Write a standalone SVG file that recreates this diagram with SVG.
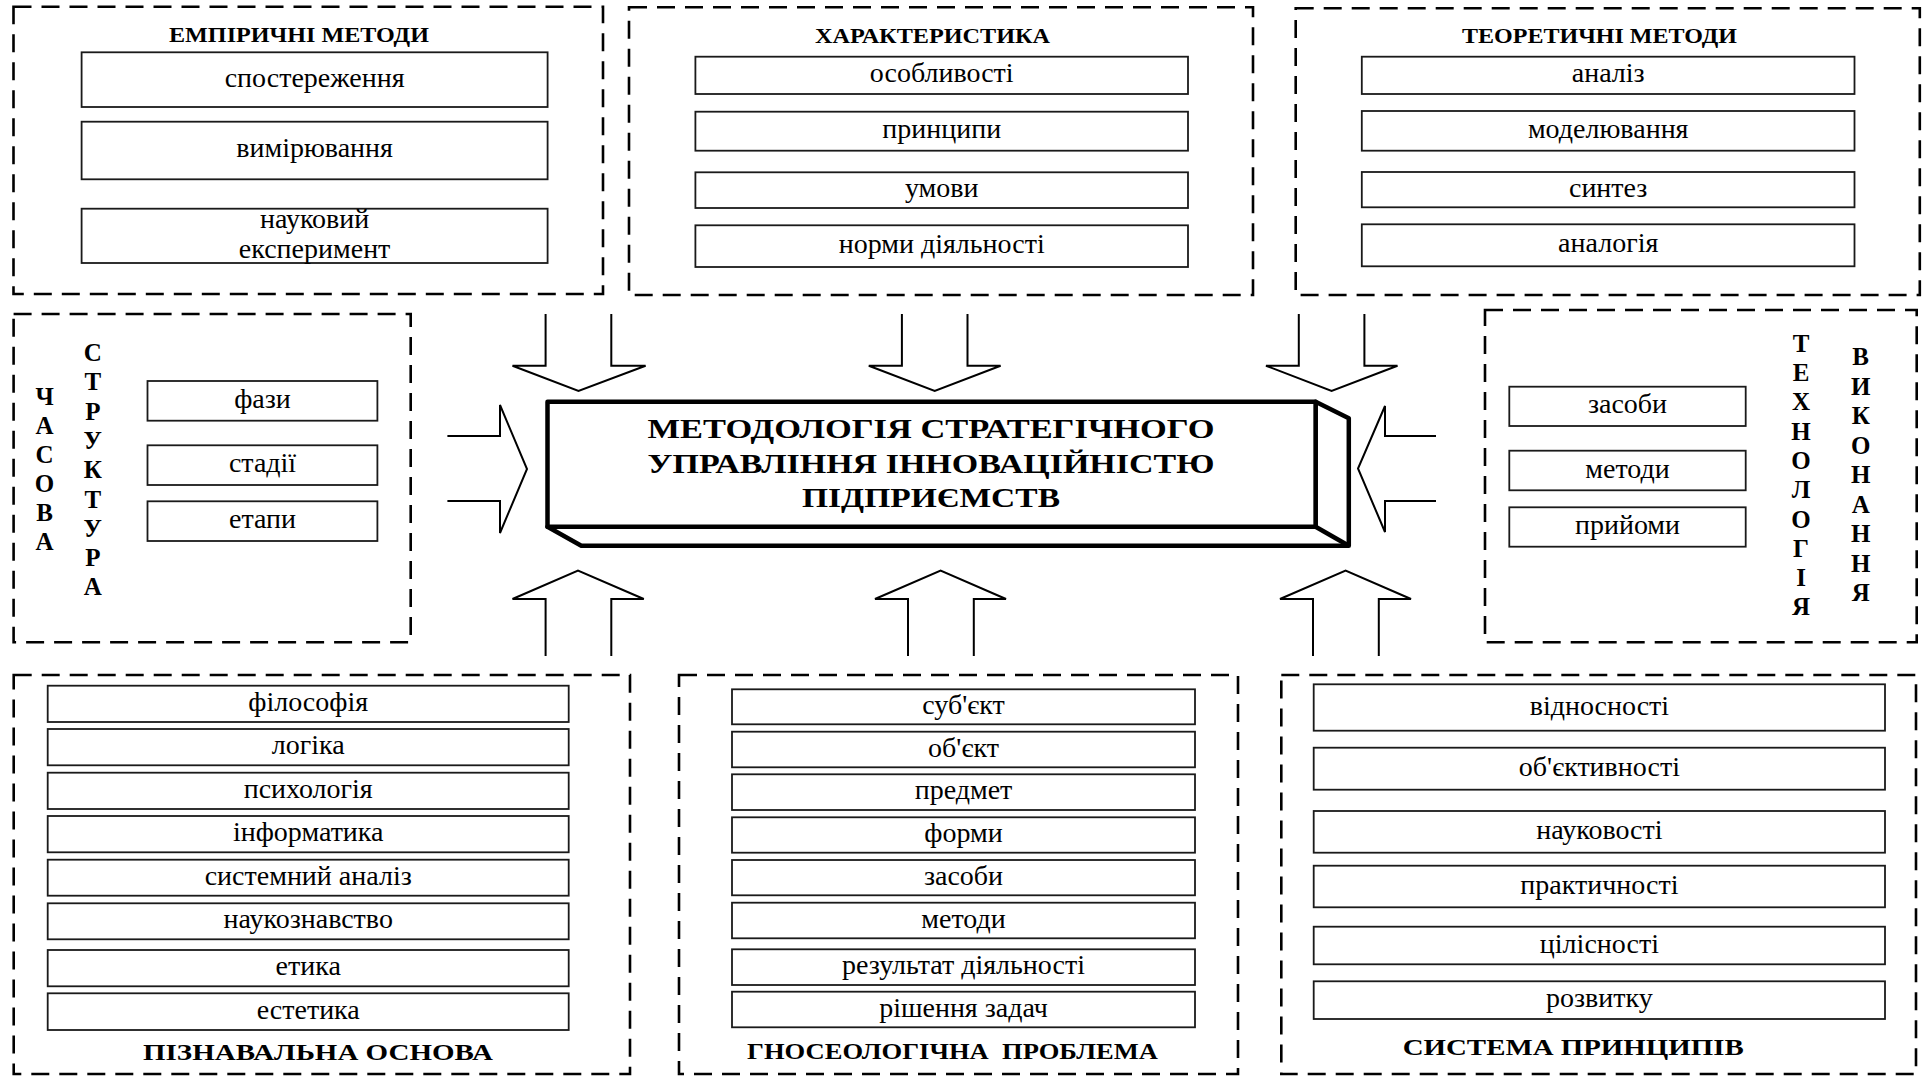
<svg xmlns="http://www.w3.org/2000/svg" width="1928" height="1077" viewBox="0 0 1928 1077">
  <style>
    .frame { fill: none; stroke: #000; stroke-width: 2.6; stroke-dasharray: 18 10; }
    .item { fill: #fff; stroke: #1a1a1a; stroke-width: 1.8; }
    .lbl { font-family: "Liberation Serif", "Times New Roman", serif; font-size: 28px; fill: #000; text-anchor: middle; }
    .ttl { font-family: "Liberation Serif", "Times New Roman", serif; font-weight: bold; font-size: 20px; fill: #000; }
    .ttl2 { font-family: "Liberation Serif", "Times New Roman", serif; font-weight: bold; font-size: 23px; fill: #000; }
    .vert { font-family: "Liberation Serif", "Times New Roman", serif; font-weight: bold; font-size: 25px; fill: #000; text-anchor: middle; }
    .main { font-family: "Liberation Serif", "Times New Roman", serif; font-weight: bold; font-size: 28px; fill: #000; }
    .arrow { fill: none; stroke: #000; stroke-width: 2; stroke-linejoin: miter; }
    .block { fill: #fff; stroke: #000; stroke-width: 4.5; stroke-linejoin: round; }
  </style>
  <rect width="1928" height="1077" fill="#fff"/>

  <!-- Empirical methods -->
  <g id="empirical">
    <rect class="frame" x="13.5" y="6.7" width="589.5" height="287.3"/>
    <text class="ttl" x="169" y="41.7" textLength="260" lengthAdjust="spacingAndGlyphs">ЕМПІРИЧНІ МЕТОДИ</text>
    <rect class="item" x="81.6" y="52.3" width="466" height="54.7"/>
    <text class="lbl" x="314.6" y="86.7">спостереження</text>
    <rect class="item" x="81.6" y="121.7" width="466" height="57.6"/>
    <text class="lbl" x="314.6" y="157">вимірювання</text>
    <rect class="item" x="81.6" y="208.7" width="466" height="54.3"/>
    <text class="lbl" x="314.6" y="228.3">науковий</text>
    <text class="lbl" x="314.6" y="258.3">експеримент</text>
  </g>

  <!-- Characteristics -->
  <g id="characteristics">
    <rect class="frame" x="629" y="7.3" width="624" height="287.7"/>
    <text class="ttl" x="815" y="42.7" textLength="235" lengthAdjust="spacingAndGlyphs">ХАРАКТЕРИСТИКА</text>
    <rect class="item" x="695.4" y="56.7" width="492.6" height="37.3"/>
    <text class="lbl" x="941.7" y="82.3">особливості</text>
    <rect class="item" x="695.4" y="111.7" width="492.6" height="39"/>
    <text class="lbl" x="941.7" y="138.2">принципи</text>
    <rect class="item" x="695.4" y="172.3" width="492.6" height="35.7"/>
    <text class="lbl" x="941.7" y="197.2">умови</text>
    <rect class="item" x="695.4" y="225.3" width="492.6" height="41.7"/>
    <text class="lbl" x="941.7" y="253.2">норми діяльності</text>
  </g>

  <!-- Theoretical methods -->
  <g id="theoretical">
    <rect class="frame" x="1295.7" y="8.3" width="624.1" height="286.7"/>
    <text class="ttl" x="1462" y="42.7" textLength="275" lengthAdjust="spacingAndGlyphs">ТЕОРЕТИЧНІ МЕТОДИ</text>
    <rect class="item" x="1361.8" y="56.7" width="492.7" height="37.3"/>
    <text class="lbl" x="1608.2" y="82.3">аналіз</text>
    <rect class="item" x="1361.8" y="111" width="492.7" height="39.7"/>
    <text class="lbl" x="1608.2" y="137.8">моделювання</text>
    <rect class="item" x="1361.8" y="172" width="492.7" height="35.3"/>
    <text class="lbl" x="1608.2" y="196.7">синтез</text>
    <rect class="item" x="1361.8" y="224.3" width="492.7" height="42"/>
    <text class="lbl" x="1608.2" y="252.3">аналогія</text>
  </g>

  <!-- Time structure -->
  <g id="time-structure">
    <rect class="frame" x="13.6" y="314" width="397.1" height="328.3"/>
    <text class="vert"><tspan x="44.6" y="405">Ч</tspan><tspan x="44.6" dy="29">А</tspan><tspan x="44.6" dy="29">С</tspan><tspan x="44.6" dy="29">О</tspan><tspan x="44.6" dy="29">В</tspan><tspan x="44.6" dy="29">А</tspan></text>
    <text class="vert"><tspan x="92.8" y="361">С</tspan><tspan x="92.8" dy="29.3">Т</tspan><tspan x="92.8" dy="29.3">Р</tspan><tspan x="92.8" dy="29.3">У</tspan><tspan x="92.8" dy="29.3">К</tspan><tspan x="92.8" dy="29.3">Т</tspan><tspan x="92.8" dy="29.3">У</tspan><tspan x="92.8" dy="29.3">Р</tspan><tspan x="92.8" dy="29.3">А</tspan></text>
    <rect class="item" x="147.5" y="381" width="229.9" height="39.7"/>
    <text class="lbl" x="262.5" y="408">фази</text>
    <rect class="item" x="147.5" y="445.3" width="229.9" height="39.7"/>
    <text class="lbl" x="262.5" y="472.2">стадії</text>
    <rect class="item" x="147.5" y="501.3" width="229.9" height="39.7"/>
    <text class="lbl" x="262.5" y="528.2">етапи</text>
  </g>

  <!-- Execution technology -->
  <g id="execution-technology">
    <rect class="frame" x="1485" y="310" width="431.7" height="332.3"/>
    <rect class="item" x="1509.3" y="386.7" width="236.4" height="39.3"/>
    <text class="lbl" x="1627.5" y="413.3">засоби</text>
    <rect class="item" x="1509.3" y="450.7" width="236.4" height="39.6"/>
    <text class="lbl" x="1627.5" y="477.5">методи</text>
    <rect class="item" x="1509.3" y="507.3" width="236.4" height="39.4"/>
    <text class="lbl" x="1627.5" y="534">прийоми</text>
    <text class="vert"><tspan x="1801" y="351.7">Т</tspan><tspan x="1801" dy="29.3">Е</tspan><tspan x="1801" dy="29.3">Х</tspan><tspan x="1801" dy="29.3">Н</tspan><tspan x="1801" dy="29.3">О</tspan><tspan x="1801" dy="29.3">Л</tspan><tspan x="1801" dy="29.3">О</tspan><tspan x="1801" dy="29.3">Г</tspan><tspan x="1801" dy="29.3">І</tspan><tspan x="1801" dy="29.3">Я</tspan></text>
    <text class="vert"><tspan x="1860.7" y="365">В</tspan><tspan x="1860.7" dy="29.5">И</tspan><tspan x="1860.7" dy="29.5">К</tspan><tspan x="1860.7" dy="29.5">О</tspan><tspan x="1860.7" dy="29.5">Н</tspan><tspan x="1860.7" dy="29.5">А</tspan><tspan x="1860.7" dy="29.5">Н</tspan><tspan x="1860.7" dy="29.5">Н</tspan><tspan x="1860.7" dy="29.5">Я</tspan></text>
  </g>

  <!-- Cognitive basis -->
  <g id="cognitive-basis">
    <rect class="frame" x="13.7" y="675" width="616.3" height="399"/>
    <rect class="item" x="47.7" y="685.7" width="521" height="36.3"/>
    <text class="lbl" x="308.2" y="710.8">філософія</text>
    <rect class="item" x="47.7" y="729" width="521" height="36.3"/>
    <text class="lbl" x="308.2" y="754.2">логіка</text>
    <rect class="item" x="47.7" y="772.7" width="521" height="36.3"/>
    <text class="lbl" x="308.2" y="797.8">психологія</text>
    <rect class="item" x="47.7" y="816" width="521" height="36.3"/>
    <text class="lbl" x="308.2" y="841.2">інформатика</text>
    <rect class="item" x="47.7" y="859.7" width="521" height="36"/>
    <text class="lbl" x="308.2" y="884.7">системний аналіз</text>
    <rect class="item" x="47.7" y="903.3" width="521" height="36"/>
    <text class="lbl" x="308.2" y="928.3">наукознавство</text>
    <rect class="item" x="47.7" y="950" width="521" height="36.3"/>
    <text class="lbl" x="308.2" y="975.2">етика</text>
    <rect class="item" x="47.7" y="993.3" width="521" height="36.7"/>
    <text class="lbl" x="308.2" y="1018.6">естетика</text>
    <text class="ttl2" x="143" y="1060" textLength="350" lengthAdjust="spacingAndGlyphs">ПІЗНАВАЛЬНА ОСНОВА</text>
  </g>

  <!-- Gnoseological problem -->
  <g id="gnoseological-problem">
    <rect class="frame" x="679" y="675" width="559" height="399"/>
    <rect class="item" x="732" y="689.3" width="463" height="35"/>
    <text class="lbl" x="963.5" y="713.8">суб'єкт</text>
    <rect class="item" x="732" y="731.7" width="463" height="35.6"/>
    <text class="lbl" x="963.5" y="756.5">об'єкт</text>
    <rect class="item" x="732" y="774.3" width="463" height="35.7"/>
    <text class="lbl" x="963.5" y="799.2">предмет</text>
    <rect class="item" x="732" y="817.3" width="463" height="35.4"/>
    <text class="lbl" x="963.5" y="842">форми</text>
    <rect class="item" x="732" y="860" width="463" height="35.3"/>
    <text class="lbl" x="963.5" y="884.7">засоби</text>
    <rect class="item" x="732" y="902.7" width="463" height="35.6"/>
    <text class="lbl" x="963.5" y="927.5">методи</text>
    <rect class="item" x="732" y="949.3" width="463" height="35.7"/>
    <text class="lbl" x="963.5" y="974.2">результат діяльності</text>
    <rect class="item" x="732" y="991.7" width="463" height="35.6"/>
    <text class="lbl" x="963.5" y="1016.5">рішення задач</text>
    <text class="ttl2" x="747" y="1059.3" textLength="411" lengthAdjust="spacingAndGlyphs" xml:space="preserve">ГНОСЕОЛОГІЧНА  ПРОБЛЕМА</text>
  </g>

  <!-- System of principles -->
  <g id="principles">
    <rect class="frame" x="1281.3" y="675" width="634.7" height="399"/>
    <rect class="item" x="1313.7" y="684.3" width="571.3" height="46.4"/>
    <text class="lbl" x="1599.4" y="714.5">відносності</text>
    <rect class="item" x="1313.7" y="747.7" width="571.3" height="42"/>
    <text class="lbl" x="1599.4" y="775.7">об'єктивності</text>
    <rect class="item" x="1313.7" y="811" width="571.3" height="41.7"/>
    <text class="lbl" x="1599.4" y="838.8">науковості</text>
    <rect class="item" x="1313.7" y="865.7" width="571.3" height="41.6"/>
    <text class="lbl" x="1599.4" y="893.5">практичності</text>
    <rect class="item" x="1313.7" y="926.7" width="571.3" height="37.6"/>
    <text class="lbl" x="1599.4" y="952.5">цілісності</text>
    <rect class="item" x="1313.7" y="981.3" width="571.3" height="37.7"/>
    <text class="lbl" x="1599.4" y="1007.2">розвитку</text>
    <text class="ttl2" x="1402.7" y="1055" textLength="341" lengthAdjust="spacingAndGlyphs">СИСТЕМА ПРИНЦИПІВ</text>
  </g>

  <!-- Central block -->
  <g id="methodology">
    <path class="block" d="M1315.6 401.7 L1348.8 418.3 L1348.8 545.7 L581.3 545.7 L547.5 526.7 L1315.6 526.7 Z"/>
    <line class="block" x1="1315.6" y1="526.7" x2="1348.8" y2="545.7"/>
    <rect class="block" x="547.5" y="401.7" width="768.1" height="125"/>
    <text class="main" x="647.5" y="438.3" textLength="567" lengthAdjust="spacingAndGlyphs">МЕТОДОЛОГІЯ СТРАТЕГІЧНОГО</text>
    <text class="main" x="647.5" y="473.3" textLength="567" lengthAdjust="spacingAndGlyphs">УПРАВЛІННЯ ІННОВАЦІЙНІСТЮ</text>
    <text class="main" x="802" y="506.7" textLength="258" lengthAdjust="spacingAndGlyphs">ПІДПРИЄМСТВ</text>
  </g>

  <!-- Block arrows pointing at the central block -->
  <g id="connectors">
    <path class="arrow" d="M545.6 314 V365.7 H512.5 L578.5 391 L645.6 365.7 H611.3 V314"/>
    <path class="arrow" d="M901.9 314 V365.7 H868.8 L934.7 391 L1000.6 365.7 H967.5 V314"/>
    <path class="arrow" d="M1298.8 314 V365.7 H1266 L1331.6 391 L1397.5 365.7 H1364.4 V314"/>
    <path class="arrow" d="M545.6 656 V599 H512.5 L578 570.7 L643.8 599 H611.3 V656"/>
    <path class="arrow" d="M908 656 V599 H875 L940.6 570.7 L1006 599 H973.8 V656"/>
    <path class="arrow" d="M1313 656 V599 H1280 L1345.6 570.7 L1411 599 H1378.8 V656"/>
    <path class="arrow" d="M447.4 436 H500 V405 L527 469 L500 533 V501 H447.4"/>
    <path class="arrow" d="M1436 436 H1385 V406 L1358 468.5 L1385 532 V501 H1436"/>
  </g>
</svg>
